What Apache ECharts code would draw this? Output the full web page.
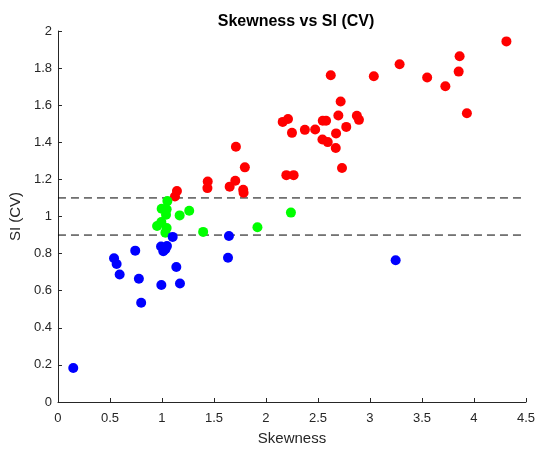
<!DOCTYPE html>
<html>
<head>
<meta charset="utf-8">
<script src="https://cdn.jsdelivr.net/npm/echarts@6/dist/echarts.min.js"></script>
<style>
html,body{margin:0;padding:0;background:#fff;}
#chart{width:538px;height:451px;}
</style>
</head>
<body>
<div id="chart"></div>
<script>
// skewness (x) and SI (CV) (y) for each group
var redX = [4.312,3.285,3.862,3.853,3.550,3.037,2.623,3.725,3.932,2.718,2.696,2.874,2.894,2.772,2.546,2.578,2.161,2.212,2.250,2.374,2.473,2.674,2.543,2.594,2.671,2.731,2.196,2.266,1.711,1.797,1.705,1.651,1.781,1.785,1.440,1.437,1.144,1.125];
var redY = [1.944,1.821,1.864,1.781,1.749,1.756,1.761,1.702,1.557,1.620,1.544,1.543,1.521,1.483,1.516,1.516,1.510,1.526,1.451,1.467,1.469,1.448,1.415,1.401,1.369,1.261,1.223,1.223,1.376,1.265,1.193,1.161,1.144,1.128,1.189,1.153,1.137,1.108];
var greenX = [2.240,1.918,1.396,1.262,1.170,1.052,0.997,1.045,1.039,0.994,0.953,1.045,1.033];
var greenY = [1.021,0.942,0.917,1.031,1.006,1.083,1.042,1.039,1.010,0.970,0.949,0.938,0.913];
var blueX = [3.247,1.644,1.635,1.103,0.991,1.048,1.033,1.013,0.743,0.539,0.564,0.593,0.778,1.138,0.994,1.173,0.800,0.147];
var blueY = [0.764,0.895,0.778,0.890,0.838,0.841,0.823,0.813,0.816,0.775,0.744,0.687,0.664,0.728,0.631,0.639,0.535,0.183];
var thresholds = [1.1, 0.9];

function pairs(xs, ys){
	return xs.map(function(x,i){ return [x, ys[i]]; });
}

var chart = echarts.init(document.getElementById('chart'));
var axisColor = '#262626';
var font = 'Liberation Sans, Arial, sans-serif';

function scatter(name, xs, ys, color){
	return {
		name: name,
		type: 'scatter',
		symbolSize: 10,
		itemStyle: { color: color, opacity: 1 },
		data: pairs(xs, ys),
		animation: false
	};
}

var series = [
	scatter('red', redX, redY, '#ff0000'),
	scatter('green', greenX, greenY, '#00ff00'),
	scatter('blue', blueX, blueY, '#0000ff')
];
// dashed threshold lines
thresholds.forEach(function(t){
	series.push({
		type: 'line',
		data: [[0, t], [4.5, t]],
		symbol: 'none',
		lineStyle: { color: '#000', width: 1, type: [8, 5] },
		animation: false,
		z: 1
	});
});

chart.setOption({
	backgroundColor: '#fff',
	title: {
		text: 'Skewness vs SI (CV)',
		left: 291, top: 9,
		textAlign: 'center',
		textStyle: { fontSize: 16, fontWeight: 'bold', color: '#000', fontFamily: font }
	},
	grid: { left: 57, right: 11, top: 31, bottom: 48 },
	xAxis: {
		type: 'value', min: 0, max: 4.5, interval: 0.5,
		name: 'Skewness', nameLocation: 'middle', nameGap: 29,
		nameTextStyle: { fontSize: 15, color: axisColor, fontFamily: font },
		axisLine: { lineStyle: { color: axisColor } },
		axisTick: { inside: true, length: 4, lineStyle: { color: axisColor } },
		axisLabel: { color: axisColor, fontSize: 13, fontFamily: font, margin: 10 },
		splitLine: { show: false }
	},
	yAxis: {
		type: 'value', min: 0, max: 2, interval: 0.2,
		name: 'SI (CV)', nameLocation: 'middle', nameGap: 34,
		nameTextStyle: { fontSize: 15, color: axisColor, fontFamily: font },
		axisLine: { show: true, lineStyle: { color: axisColor } },
		axisTick: { show: true, inside: true, length: 4, lineStyle: { color: axisColor } },
		axisLabel: { color: axisColor, fontSize: 13, fontFamily: font, margin: 6 },
		splitLine: { show: false }
	},
	series: series
});
</script>
</body>
</html>
